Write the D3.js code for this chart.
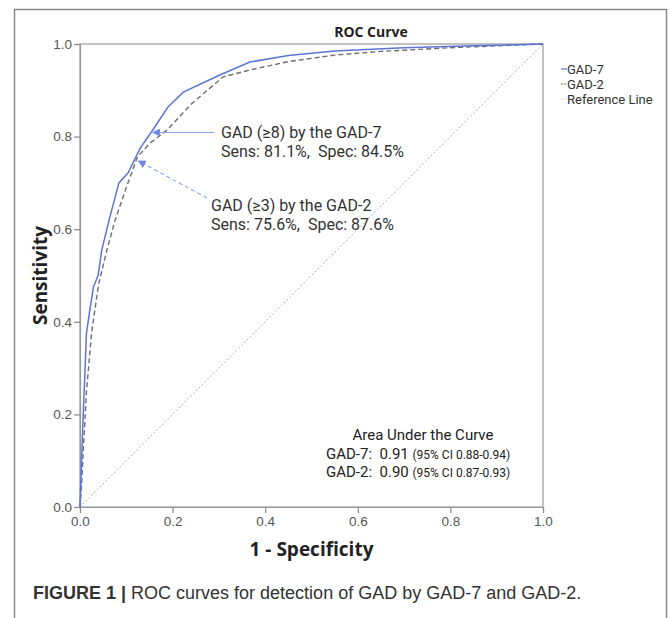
<!DOCTYPE html>
<html>
<head>
<meta charset="utf-8">
<script src="https://cdn.jsdelivr.net/npm/d3@7"></script>
<style>
  body { margin: 0; background: #fff; }
  svg { display: block; }
</style>
</head>
<body>
<svg width="669" height="618"></svg>
<script>
// ROC points as [1 - specificity, sensitivity]
const gad7 = [[0,0],[0.004,0.12],[0.007,0.2],[0.011,0.3],[0.014,0.376],[0.022,0.43],[0.029,0.475],[0.039,0.5],[0.047,0.555],[0.063,0.62],[0.084,0.70],[0.104,0.722],[0.13,0.775],[0.155,0.811],[0.19,0.864],[0.223,0.896],[0.302,0.933],[0.367,0.961],[0.45,0.975],[0.55,0.985],[0.7,0.992],[0.85,0.996],[1,1]]
const gad2 = [[0,0],[0.004,0.06],[0.007,0.12],[0.014,0.25],[0.025,0.376],[0.04,0.48],[0.058,0.555],[0.076,0.62],[0.1,0.69],[0.124,0.756],[0.15,0.785],[0.188,0.814],[0.24,0.87],[0.309,0.929],[0.367,0.944],[0.45,0.962],[0.55,0.976],[0.65,0.984],[0.8,0.992],[0.9,0.996],[1,1]]
const refLine = [[0,0],[1,1]]
const ticks = [0, 0.2, 0.4, 0.6, 0.8, 1.0]
const legendNames = ['GAD-7', 'GAD-2', 'Reference Line']
const cut7 = [0.155, 0.811]
const cut2 = [0.124, 0.756]
const note7 = ['GAD (\u22658) by the GAD-7', 'Sens: 81.1%,\u00a0\u00a0Spec: 84.5%']
const note2 = ['GAD (\u22653) by the GAD-2', 'Sens: 75.6%,\u00a0\u00a0Spec: 87.6%']
const aucLines = [['GAD-7:', '0.91', '(95% CI 0.88-0.94)'], ['GAD-2:', '0.90', '(95% CI 0.87-0.93)']]

var svg = d3.select('svg')
var font = "'Open Sans', 'Noto Sans', sans-serif"
var tight = "Roboto, 'Liberation Sans', sans-serif"

// outer figure frame
svg.append('rect')
  .attr('x', 14.5).attr('y', 9.5).attr('width', 652).attr('height', 640)
  .attr('fill', 'none').attr('stroke', '#8a8a8a').attr('stroke-width', 1.5)

var x = d3.scaleLinear().domain([0, 1]).range([80, 543])
var y = d3.scaleLinear().domain([0, 1]).range([507, 44])

// plot box
svg.append('rect')
  .attr('x', x(0)).attr('y', y(1)).attr('width', x(1) - x(0)).attr('height', y(0) - y(1))
  .attr('fill', 'none').attr('stroke', '#999').attr('stroke-width', 1.2)

var xAxis = svg.append('g').attr('transform', 'translate(0,' + y(0) + ')')
  .call(d3.axisBottom(x).tickValues(ticks).tickFormat(d3.format('.1f')).tickSize(6).tickPadding(3))
var yAxis = svg.append('g').attr('transform', 'translate(' + x(0) + ',0)')
  .call(d3.axisLeft(y).tickValues(ticks).tickFormat(d3.format('.1f')).tickSize(6).tickPadding(2))

;[xAxis, yAxis].forEach(function(g) {
  g.select('.domain').attr('stroke', '#999').attr('stroke-width', 1.2)
  g.selectAll('.tick line').attr('stroke', '#888').attr('stroke-width', 1.2)
  g.selectAll('.tick text').attr('fill', '#555').style('font', "13.5px 'Liberation Sans', Arial, sans-serif")
})

var line = d3.line().x(d => x(d[0])).y(d => y(d[1]))

svg.append('path').datum(refLine).attr('d', line)
  .attr('fill', 'none').attr('stroke', '#b5b5b5').attr('stroke-width', 1).attr('stroke-dasharray', '2,2')
svg.append('path').datum(gad2).attr('d', line)
  .attr('fill', 'none').attr('stroke', '#6e6e6e').attr('stroke-width', 1.4).attr('stroke-dasharray', '5,3')
svg.append('path').datum(gad7).attr('d', line)
  .attr('fill', 'none').attr('stroke', '#5a76d6').attr('stroke-width', 1.5)

// title and axis labels
svg.append('text').attr('x', 371).attr('y', 37).attr('text-anchor', 'middle')
  .style('font', 'bold 14px ' + font).attr('fill', '#222').text('ROC Curve')
svg.append('text').attr('x', x(0.5)).attr('y', 556).attr('text-anchor', 'middle')
  .style('font', 'bold 19px ' + font).attr('fill', '#222').text('1 - Specificity')
svg.append('text').attr('transform', 'translate(47,' + y(0.5) + ') rotate(-90)').attr('text-anchor', 'middle')
  .style('font', 'bold 19px ' + font).attr('fill', '#222').text('Sensitivity')

// legend
var legendStyles = [
  { stroke: '#5a76d6', dash: null },
  { stroke: '#6e6e6e', dash: '2,1' },
  { stroke: '#c8c8c8', dash: '1,1' }
]
legendNames.forEach(function(name, i) {
  var ly = 69 + i * 15
  svg.append('line').attr('x1', 561).attr('x2', 567).attr('y1', ly).attr('y2', ly)
    .attr('stroke', legendStyles[i].stroke).attr('stroke-width', 1.2)
    .attr('stroke-dasharray', legendStyles[i].dash)
  svg.append('text').attr('x', 567).attr('y', ly + 4.5)
    .style('font', '13px ' + tight).attr('fill', '#333').text(name)
})

// arrow markers
var defs = svg.append('defs')
defs.append('marker').attr('id', 'arr').attr('viewBox', '0 0 10 10')
  .attr('refX', 9).attr('refY', 5).attr('markerWidth', 8).attr('markerHeight', 8)
  .attr('markerUnits', 'userSpaceOnUse').attr('orient', 'auto')
  .append('path').attr('d', 'M0,0L10,5L0,10z').attr('fill', '#6f86e8')

svg.append('line')
  .attr('x1', 214).attr('y1', y(cut7[1]) + 1).attr('x2', x(cut7[0]) + 1).attr('y2', y(cut7[1]) + 1)
  .attr('stroke', '#8ea0ee').attr('stroke-width', 1.1).attr('marker-end', 'url(#arr)')
svg.append('line')
  .attr('x1', 207).attr('y1', 198).attr('x2', x(cut2[0]) + 1).attr('y2', y(cut2[1]) + 4)
  .attr('stroke', '#8ea0ee').attr('stroke-width', 1.1).attr('stroke-dasharray', '4,3').attr('marker-end', 'url(#arr)')

function note(lines, tx, ty) {
  lines.forEach(function(s, i) {
    svg.append('text').attr('x', tx).attr('y', ty + i * 18.5)
      .style('font', '16px ' + tight).attr('fill', '#333').text(s)
  })
}
note(note7, 221, 138)
note(note2, 211, 211)

// AUC box
svg.append('text').attr('x', 423).attr('y', 440).attr('text-anchor', 'middle')
  .style('font', '15px ' + tight).attr('fill', '#222').text('Area Under the Curve')
aucLines.forEach(function(r, i) {
  var t = svg.append('text').attr('x', 326).attr('y', 459 + i * 18)
    .style('font', '15px ' + tight).attr('fill', '#222')
  t.append('tspan').text(r[0] + '\u00a0\u00a0' + r[1] + ' ')
  t.append('tspan').style('font-size', '12px').text(r[2])
})

// caption
var cap = svg.append('text').attr('x', 33).attr('y', 599)
  .style('font', "18px 'Liberation Sans', Arial, sans-serif").attr('fill', '#333')
cap.append('tspan').attr('font-weight', 'bold').text('FIGURE 1 | ')
cap.append('tspan').text('ROC curves for detection of GAD by GAD-7 and GAD-2.')
</script>
</body>
</html>
